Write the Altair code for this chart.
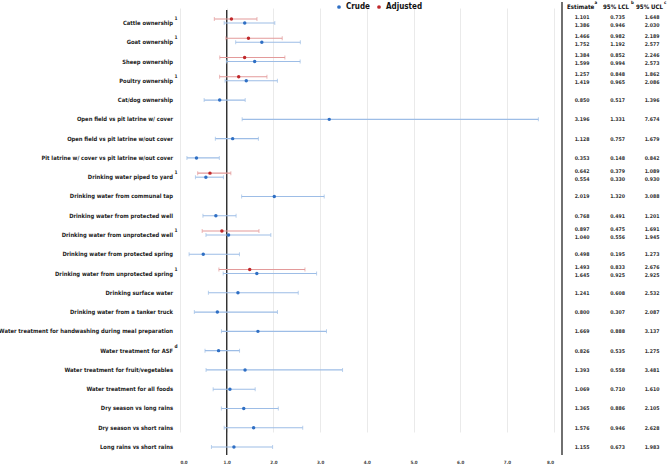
import altair as alt
import pandas as pd

# Exposure categories, top to bottom
categories = [
    "Cattle ownership",
    "Goat ownership",
    "Sheep ownership",
    "Poultry ownership",
    "Cat/dog ownership",
    "Open field vs pit latrine w/ cover",
    "Open field vs pit latrine w/out cover",
    "Pit latrine w/ cover vs pit latrine w/out cover",
    "Drinking water piped to yard",
    "Drinking water from communal tap",
    "Drinking water from protected well",
    "Drinking water from unprotected well",
    "Drinking water from protected spring",
    "Drinking water from unprotected spring",
    "Drinking surface water",
    "Drinking water from  a tanker truck",
    "Water treatment for handwashing during meal preparation",
    "Water treatment for ASF",
    "Water treatment for fruit/vegetables",
    "Water treatment for all foods",
    "Dry season vs long rains",
    "Dry season vs short rains",
    "Long rains vs short rains",
]
label_marks = ["1", "1", "", "1", "", "", "", "", "1", "", "", "1", "", "1",
               "", "", "", "d", "", "", "", "", ""]

# Crude estimates with 95% confidence limits
crude_est = [1.386, 1.752, 1.599, 1.419, 0.850, 3.196, 1.128, 0.353, 0.554, 2.019,
             0.768, 1.040, 0.498, 1.645, 1.241, 0.800, 1.669, 0.826, 1.393, 1.069,
             1.365, 1.576, 1.155]
crude_lcl = [0.946, 1.192, 0.994, 0.965, 0.517, 1.331, 0.757, 0.148, 0.330, 1.320,
             0.491, 0.556, 0.195, 0.925, 0.608, 0.307, 0.888, 0.535, 0.558, 0.710,
             0.886, 0.946, 0.673]
crude_ucl = [2.030, 2.577, 2.573, 2.086, 1.396, 7.674, 1.679, 0.842, 0.930, 3.088,
             1.201, 1.945, 1.273, 2.925, 2.532, 2.087, 3.137, 1.275, 3.481, 1.610,
             2.105, 2.628, 1.983]

# Adjusted estimates (only where a model was adjusted)
adj_est = [1.101, 1.466, 1.384, 1.257, None, None, None, None, 0.642, None,
           None, 0.897, None, 1.493, None, None, None, None, None, None,
           None, None, None]
adj_lcl = [0.735, 0.982, 0.852, 0.848, None, None, None, None, 0.379, None,
           None, 0.475, None, 0.833, None, None, None, None, None, None,
           None, None, None]
adj_ucl = [1.648, 2.189, 2.246, 1.862, None, None, None, None, 1.089, None,
           None, 1.691, None, 2.676, None, None, None, None, None, None,
           None, None, None]

x_ticks = [0, 1, 2, 3, 4, 5, 6, 7, 8]
series_names = ["Crude", "Adjusted"]

FONT = "DejaVu Sans Condensed, DejaVu Sans, sans-serif"
BLUE_DOT, BLUE_BAR = "#2f6fc4", "#9dbde6"
RED_DOT, RED_BAR = "#c0282b", "#e39a9a"

# Long table: one row per estimate; adjusted sits just above crude
rows = []
for i, cat in enumerate(categories):
    paired = adj_est[i] is not None
    rows.append(dict(category=cat, series="Crude", est=crude_est[i],
                     lcl=crude_lcl[i], ucl=crude_ucl[i], pos=i,
                     tpos=i + (0.08 if paired else 0)))
    if paired:
        rows.append(dict(category=cat, series="Adjusted", est=adj_est[i],
                         lcl=adj_lcl[i], ucl=adj_ucl[i], pos=i - 0.21,
                         tpos=i - 0.33))
df = pd.DataFrame(rows)

labels = pd.DataFrame(dict(category=categories, mark=label_marks,
                           pos=list(range(len(categories)))))

x_scale = alt.Scale(domain=[0, 8], range=[180, 553.6], nice=False, zero=False)
y_scale = alt.Scale(domain=[0, len(categories) - 1], range=[23, 447], nice=False, zero=False)

x_enc = alt.X("est:Q", scale=x_scale,
              axis=alt.Axis(values=x_ticks, format=".1f", title=None, grid=True,
                            gridColor="#e4e4e4", gridWidth=0.8, domain=False,
                            ticks=False, labelFontSize=4.5, labelFont=FONT,
                            labelFontWeight="bold", labelColor="#444",
                            labelPadding=4))
y_enc = alt.Y("pos:Q", scale=y_scale, axis=None)

base = alt.Chart(df)

# Confidence interval lines and end caps, one layer per series
def interval(series, colour):
    sub = base.transform_filter(alt.datum.series == series)
    line = sub.mark_rule(color=colour, strokeWidth=1.1).encode(
        x=alt.X("lcl:Q", scale=x_scale), x2="ucl:Q", y=y_enc)
    cap_lo = sub.mark_tick(color=colour, orient="vertical", size=4, thickness=1).encode(
        x=alt.X("lcl:Q", scale=x_scale), y=y_enc)
    cap_hi = sub.mark_tick(color=colour, orient="vertical", size=4, thickness=1).encode(
        x=alt.X("ucl:Q", scale=x_scale), y=y_enc)
    return line + cap_lo + cap_hi

grid_axis = base.mark_point(opacity=0).encode(x=x_enc, y=y_enc)

ref_line = alt.Chart(pd.DataFrame({"ref": [1.0]})).mark_rule(
    color="#333333", strokeWidth=1.4).encode(
    x=alt.X("ref:Q", scale=x_scale), y=alt.value(10), y2=alt.value(455))

dots = base.mark_circle(size=12, opacity=1).encode(
    x=alt.X("est:Q", scale=x_scale),
    y=y_enc,
    color=alt.Color("series:N", scale=alt.Scale(domain=series_names, range=[BLUE_DOT, RED_DOT]),
                    legend=alt.Legend(title=None, orient="none", legendX=335, legendY=3,
                                      direction="horizontal", symbolType="circle",
                                      symbolSize=14, labelFont=FONT, labelFontSize=8,
                                      labelFontWeight="bold", labelColor="#111",
                                      columnPadding=5, labelOffset=3, padding=0)),
)

# Row labels with superscript notes
lab = alt.Chart(labels)
row_text = lab.mark_text(align="right", baseline="middle", font=FONT, fontSize=5.8,
                         fontWeight="bold", color="#1a1a1a").encode(
    x=alt.value(173), y=alt.Y("pos:Q", scale=y_scale, axis=None), text="category:N")
row_sup = lab.mark_text(align="left", baseline="middle", font=FONT, fontSize=4.8,
                        fontWeight="bold", color="#1a1a1a", dy=-4).encode(
    x=alt.value(174.5), y=alt.Y("pos:Q", scale=y_scale, axis=None), text="mark:N")

# Right-hand table of estimates
ty = alt.Y("tpos:Q", scale=y_scale, axis=None)
def col(field, xpix):
    return base.mark_text(align="center", baseline="middle", font=FONT, fontSize=5.2,
                          fontWeight="bold", color="#333").encode(
        x=alt.value(xpix), y=ty, text=alt.Text(f"{field}:Q", format=".3f"))

table_sep = alt.Chart(pd.DataFrame({"k": [0]})).mark_rule(
    color="#222", strokeWidth=1.3).encode(x=alt.value(562), y=alt.value(2), y2=alt.value(455))

header_names = ["Estimate", "95% LCL", "95% UCL"]
header_notes = ["a", "b", "c"]
header_x = [567, 603, 636]
note_x = [594.5, 631, 664]
header_layers = []
for name, note, xp, xn in zip(header_names, header_notes, header_x, note_x):
    one = alt.Chart(pd.DataFrame({"name": [name], "note": [note]}))
    header_layers.append(one.mark_text(align="left", baseline="middle", font=FONT,
                                       fontSize=6.1, fontWeight="bold", color="#111").encode(
        x=alt.value(xp), y=alt.value(7), text="name:N"))
    header_layers.append(one.mark_text(align="left", baseline="middle", font=FONT,
                                       fontSize=4.4, fontWeight="bold", color="#111").encode(
        x=alt.value(xn), y=alt.value(3), text="note:N"))

chart = alt.layer(
    grid_axis,
    ref_line,
    interval("Crude", BLUE_BAR),
    interval("Adjusted", RED_BAR),
    dots,
    row_text, row_sup,
    col("est", 582), col("lcl", 617.5), col("ucl", 652),
    table_sep,
    *header_layers,
).properties(
    width=669, height=455,
    padding={"left": 0, "right": 0, "top": 0, "bottom": 12},
    autosize=alt.AutoSizeParams(type="none"),
    background="white",
).configure_view(stroke=None)

chart.save("out.html", embed_options={"renderer": "svg", "actions": False})
